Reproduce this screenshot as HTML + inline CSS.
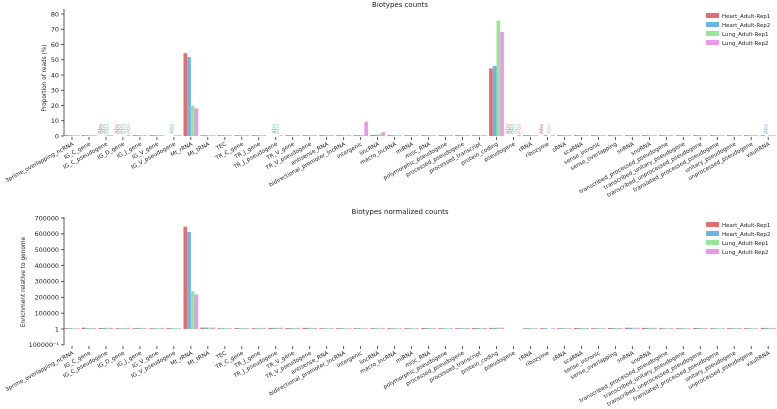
<!DOCTYPE html>
<html><head><meta charset="utf-8">
<style>
html,body{margin:0;padding:0;background:#fff;}
svg{display:block;font-family:"DejaVu Sans","Liberation Sans",sans-serif;}
</style></head>
<body>
<svg id="chart" width="777" height="409" viewBox="0 0 777 409" xmlns="http://www.w3.org/2000/svg"></svg>
<script>
const categories=["3prime_overlapping_ncRNA","IG_C_gene","IG_C_pseudogene","IG_D_gene","IG_J_gene","IG_V_gene","IG_V_pseudogene","Mt_rRNA","Mt_tRNA","TEC","TR_C_gene","TR_J_gene","TR_J_pseudogene","TR_V_gene","TR_V_pseudogene","antisense_RNA","bidirectional_promoter_lncRNA","intergenic","lincRNA","macro_lncRNA","miRNA","misc_RNA","polymorphic_pseudogene","processed_pseudogene","processed_transcript","protein_coding","pseudogene","rRNA","ribozyme","sRNA","scaRNA","sense_intronic","sense_overlapping","snRNA","snoRNA","transcribed_processed_pseudogene","transcribed_unitary_pseudogene","transcribed_unprocessed_pseudogene","translated_processed_pseudogene","unitary_pseudogene","unprocessed_pseudogene","vaultRNA"];
const seriesNames=["Heart_Adult-Rep1","Heart_Adult-Rep2","Lung_Adult-Rep1","Lung_Adult-Rep2"];
const seriesColors=["#e07070","#6cb4e4","#98e498","#e89ae8"];
// Proportion of reads (%)
const heart1Pct=[0.1,0.1,0,0,0.1,0.1,0,54.3,0.2,0.1,0.1,0.1,0,0.1,0.1,0.1,0.1,0.5,0.7,0.1,0.1,0.1,0.1,0.1,0.1,44.3,0,0.1,0,0.1,0.1,0.1,0.1,0.1,0.1,0.1,0.1,0.1,0.1,0.1,0.1,0.1];
const heart2Pct=[0.1,0.1,0,0,0.1,0.1,0,51.7,0.2,0.1,0.1,0.1,0,0.1,0.1,0.1,0.1,0.6,0.8,0.1,0.1,0.1,0.1,0.1,0.1,45.9,0,0.1,0.1,0.1,0.1,0.1,0.1,0.1,0.1,0.1,0.1,0.1,0.1,0.1,0.1,0];
const lung1Pct=[0.1,0.1,0.1,0,0.1,0.1,0.1,19.9,0.2,0.1,0.1,0.1,0,0.1,0.1,0.1,0.1,0.7,1.2,0.1,0.1,0.1,0.1,0.1,0.1,75.6,0,0.1,0,0.1,0.1,0.1,0.1,0.1,0.1,0.1,0.1,0.1,0.1,0.1,0.1,0.1];
const lung2Pct=[0.1,0.1,0.1,0.1,0.1,0.1,0.1,18.2,0.2,0.1,0.1,0.1,0.1,0.1,0.1,0.1,0.1,9.3,2.5,0.1,0.1,0.1,0.1,0.1,0.1,68.2,0.1,0.1,0.1,0.1,0.1,0.1,0.1,0.1,0.1,0.1,0.1,0.1,0.1,0.1,0.1,0.1];
// "Abs" annotations: [category index, series index]
const absMarks=[[2,0],[2,1],[2,2],[3,0],[3,1],[3,2],[3,3],[6,1],[12,1],[12,2],[26,0],[26,1],[26,2],[26,3],[28,0],[28,2],[41,1]];
// Enrichment relative to genome
const heart1Enr=[3000,8000,6000,5000,4000,5000,6000,645000,9000,5000,6000,5000,7000,6000,7000,4000,5000,4000,5000,5000,5000,6000,5000,5000,6000,7000,0,4000,3000,5000,6000,5000,6000,8000,7000,5000,5000,6000,5000,5000,5000,7000];
const heart2Enr=[4000,5000,6000,3000,7000,4000,5000,612000,9000,5000,5000,5000,7000,6000,7000,4000,5000,4000,5000,5000,5000,6000,5000,5000,6000,7000,0,4000,5000,5000,6000,5000,6000,8000,7000,5000,5000,6000,5000,5000,5000,7000];
const lung1Enr=[4000,6000,8000,6000,6000,7000,5000,238000,9000,5000,6000,7000,7000,6000,7000,4000,5000,4000,5000,5000,5000,6000,5000,6000,6000,8000,0,4000,0,6000,6000,5000,6000,8000,7000,5000,5000,6000,5000,6000,5000,7000];
const lung2Enr=[4000,6000,8000,8000,5000,7000,4000,218000,9000,5000,6000,7000,8000,7000,7000,4000,5000,4000,5000,5000,5000,6000,5000,6000,7000,8000,0,4000,4000,5000,6000,5000,6000,8000,7000,5000,5000,6000,5000,6000,5000,7000];
const pctTicks=[0,10,20,30,40,50,60,70,80];
const enrTicks=[-100000,0,100000,200000,300000,400000,500000,600000,700000];
const enrTickLabels=["100000\u207b\u00b9","1","100000","200000","300000","400000","500000","600000","700000"];

const svg=document.getElementById('chart');
const NS="http://www.w3.org/2000/svg";
function mk(tag,attrs,parent){const e=document.createElementNS(NS,tag);for(const k in attrs)e.setAttribute(k,attrs[k]);(parent||svg).appendChild(e);return e;}
const x0=72,step=16.98,barW=3.7;
function xPos(i){return x0+i*step;}

function panel(cfg){
  const g=mk('g',{});
  
  
  const y=cfg.y;
  const t=mk('text',{x:400,y:cfg.titleY,'font-size':7,'text-anchor':'middle',fill:'#222'},g);
  t.textContent=cfg.title;
  
  
  const ax=mk('line',{x1:64,x2:64,y1:cfg.axTop,y2:cfg.axBot,stroke:'#333','stroke-width':0.8},g);
  
  
  cfg.ticks.forEach((v,k)=>{
    const yy=y(v);
    mk('line',{x1:61,x2:64,y1:yy,y2:yy,stroke:'#333','stroke-width':0.8},g);
    const l=mk('text',{x:59,y:yy+2.3,'font-size':6.4,'text-anchor':'end',fill:'#222'},g);
    l.textContent=cfg.tickLabels[k];
    
    
  });
  const yt=mk('text',{x:0,y:0,'font-size':5.8,'text-anchor':'middle',fill:'#222',transform:`translate(${cfg.ytX},${cfg.ytY}) rotate(-90)`},g);
  yt.textContent=cfg.ytitle;
  
  
  cfg.series.forEach((arr,s)=>{
    arr.forEach((v,i)=>{
      if(v<=0)return;
      const bx=xPos(i)-7.4+s*barW;
      const top=y(v),base=y(cfg.base);
      const r=mk('rect',{x:bx,y:Math.min(top,base-0.8),width:barW,height:Math.max(base-top,0.8),fill:seriesColors[s]},g);
      
      
    });
  });
  categories.forEach((c,i)=>{
    const xx=xPos(i);
    mk('line',{x1:xx,x2:xx,y1:cfg.tickY,y2:cfg.tickY+3,stroke:'#333','stroke-width':0.8},g);
    const l=mk('text',{x:0,y:0,'font-size':5.6,'text-anchor':'end',fill:'#222',transform:`translate(${xx+2},${cfg.tickY+8}) rotate(-29)`},g);
    l.textContent=c;
    
    
  });
  seriesNames.forEach((n,s)=>{
    const ly=cfg.legY+s*9;
    const p=mk('rect',{x:706,y:ly-3,width:13,height:5,fill:seriesColors[s]},g);
    
    
    const lt=mk('text',{x:722,y:ly+2,'font-size':5.5,fill:'#222'},g);
    lt.textContent=n;
    
    
  });
  return g;
}

const g1=panel({name:'proportion-panel',title:'Biotypes counts',titleY:7,y:v=>136-v*1.525,base:0,axTop:9,axBot:136,ticks:pctTicks,tickLabels:pctTicks.map(String),ytitle:'Proportion of reads (%)',ytX:46,ytY:78,series:[heart1Pct,heart2Pct,lung1Pct,lung2Pct],tickY:137,legY:16});
absMarks.forEach(([i,s])=>{
  const xx=xPos(i)-7.4+s*barW+barW-0.5;
  const a=mk('text',{x:0,y:0,'font-size':5.5,fill:seriesColors[s],transform:`translate(${xx},134) rotate(-90)`},g1);
  a.textContent='Abs';
  
  
});
panel({name:'enrichment-panel',title:'Biotypes normalized counts',titleY:214,y:v=>329-v/100000*15.86,base:0,axTop:217,axBot:345,ticks:enrTicks,tickLabels:enrTickLabels,ytitle:'Enrichment relative to genome',ytX:25,ytY:282,series:[heart1Enr,heart2Enr,lung1Enr,lung2Enr],tickY:346,legY:225});
</script>
</body></html>
